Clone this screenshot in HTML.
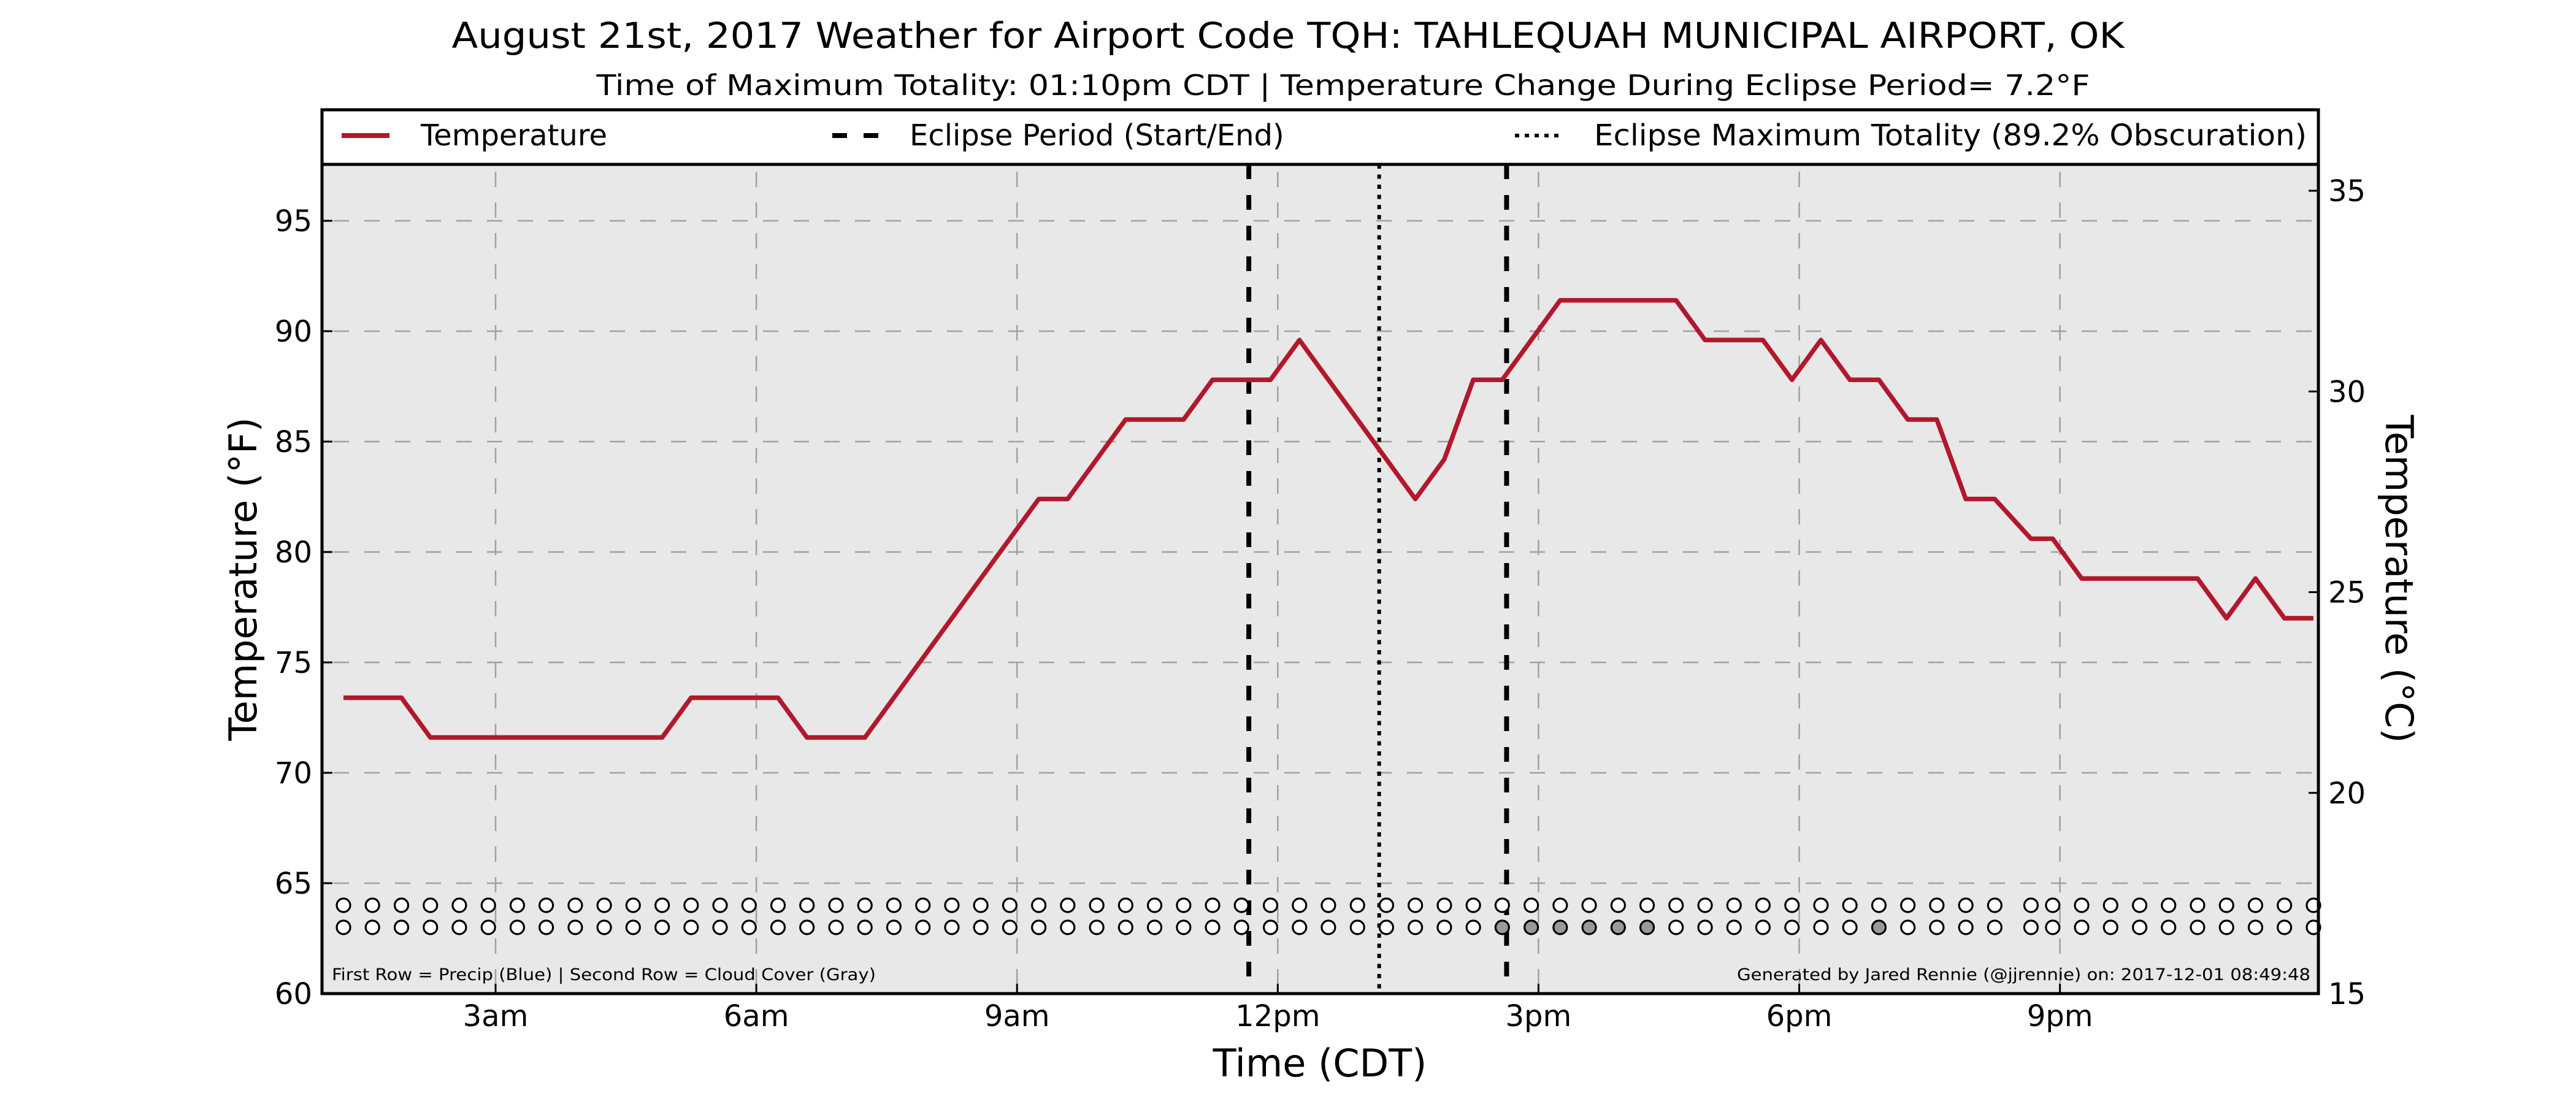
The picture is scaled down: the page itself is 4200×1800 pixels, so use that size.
<!DOCTYPE html>
<html><head><meta charset="utf-8"><style>
html,body{margin:0;padding:0;background:#fff;}
svg{display:block;font-family:"DejaVu Sans","Liberation Sans",sans-serif;}
</style></head><body>
<svg id="chart" width="4200" height="1800" viewBox="0 0 4200 1800" xmlns="http://www.w3.org/2000/svg">
<rect x="0" y="0" width="4200" height="1800" fill="#fff"/>
<text x="2100" y="78" font-size="58" text-anchor="middle" textLength="2727" lengthAdjust="spacingAndGlyphs">August 21st, 2017 Weather for Airport Code TQH: TAHLEQUAH MUNICIPAL AIRPORT, OK</text>
<text x="2190" y="155" font-size="46" text-anchor="middle" textLength="2435" lengthAdjust="spacingAndGlyphs">Time of Maximum Totality: 01:10pm CDT | Temperature Change During Eclipse Period= 7.2°F</text>
<rect x="525" y="268" width="3255" height="1352" fill="#e8e8e8"/>
<g id="grid"></g>
<g id="marks"></g>
<rect x="525" y="268" width="3255" height="1352" fill="none" stroke="#000" stroke-width="5"/>
<g id="axes"></g>
<g>
<rect x="525" y="179" width="3255" height="89" fill="#fff" stroke="#000" stroke-width="5"/>
<line x1="557" y1="221" x2="635" y2="221" stroke="#b2182b" stroke-width="8"/>
<text x="686" y="237" font-size="48">Temperature</text>
<line x1="1357" y1="221" x2="1432" y2="221" stroke="#000" stroke-width="8" stroke-dasharray="24 27"/>
<text x="1483" y="237" font-size="48">Eclipse Period (Start/End)</text>
<line x1="2470" y1="221" x2="2542" y2="221" stroke="#000" stroke-width="6" stroke-dasharray="7 9"/>
<text x="2599" y="237" font-size="48" textLength="1162" lengthAdjust="spacingAndGlyphs">Eclipse Maximum Totality (89.2% Obscuration)</text>
</g>
<text x="541" y="1598" font-size="27" textLength="887" lengthAdjust="spacingAndGlyphs">First Row = Precip (Blue) | Second Row = Cloud Cover (Gray)</text>
<text x="3767" y="1598" font-size="27" text-anchor="end" textLength="935" lengthAdjust="spacingAndGlyphs">Generated by Jared Rennie (@jjrennie) on: 2017-12-01 08:49:48</text>
<text x="2152" y="1755" font-size="62" text-anchor="middle">Time (CDT)</text>
<text transform="translate(418,944) rotate(-90)" font-size="62" text-anchor="middle">Temperature (°F)</text>
<text transform="translate(3890,944) rotate(90)" font-size="62" text-anchor="middle">Temperature (°C)</text>
</svg>
<script>
const times = [1.25,1.583,1.917,2.25,2.583,2.917,3.25,3.583,3.917,4.25,4.583,4.917,5.25,5.583,5.917,6.25,6.583,6.917,7.25,7.583,7.917,8.25,8.583,8.917,9.25,9.583,9.917,10.25,10.583,10.917,11.25,11.583,11.917,12.25,12.583,12.917,13.25,13.583,13.917,14.25,14.583,14.917,15.25,15.583,15.917,16.25,16.583,16.917,17.25,17.583,17.917,18.25,18.583,18.917,19.25,19.583,19.917,20.25,20.667,20.917,21.25,21.583,21.917,22.25,22.583,22.917,23.25,23.583,23.917];
const tempsF = [73.4,73.4,73.4,71.6,71.6,71.6,71.6,71.6,71.6,71.6,71.6,71.6,73.4,73.4,73.4,73.4,71.6,71.6,71.6,73.4,75.2,77,78.8,80.6,82.4,82.4,84.2,86,86,86,87.8,87.8,87.8,89.6,87.8,86,84.2,82.4,84.2,87.8,87.8,89.6,91.4,91.4,91.4,91.4,91.4,89.6,89.6,89.6,87.8,89.6,87.8,87.8,86,86,82.4,82.4,80.6,80.6,78.8,78.8,78.8,78.8,78.8,77,78.8,77,77];
const cloudyTimes = [14.583,14.917,15.25,15.583,15.917,16.25,18.917];
const precipTimes = [];
const eclipseStartEnd = [11.667,14.633];
const eclipseMax = [13.167];
const yTicksF = [60,65,70,75,80,85,90,95];
const yTicksC = [15,20,25,30,35];
const xTickHours = [3,6,9,12,15,18,21];
const xTickLabels = ["3am","6am","9am","12pm","3pm","6pm","9pm"];

const NS = "http://www.w3.org/2000/svg";
const X0 = 525, X1 = 3780, Y0 = 1620, Y1 = 268;
function xScale(h){ return 382.9 + 141.7*h; }
function yScale(f){ return 1620 - (f-60)*36; }
function yScaleC(c){ return 1620 - (c-15)*65.45; }
function mk(tag, attrs, parent){ const e=document.createElementNS(NS,tag); for(const k in attrs) e.setAttribute(k,attrs[k]); parent.appendChild(e); return e; }
const grid=document.getElementById('grid'), marks=document.getElementById('marks'), axes=document.getElementById('axes');

yTicksF.forEach(v=>{
  const y=yScale(v);
  if(v>60){ const g=mk('line',{x1:X0,y1:y,x2:X1,y2:y,stroke:'#a0a0a0','stroke-width':2.5,'stroke-dasharray':'25 25','stroke-dashoffset':'-19'},grid);
    }
  const t=mk('line',{x1:X0,y1:y,x2:X0+17,y2:y,stroke:'#000','stroke-width':3},axes);
   
  const l=mk('text',{x:509,y:y+17,'font-size':48,'text-anchor':'end'},axes); l.textContent=v;
   
});
yTicksC.forEach(v=>{
  const y=yScaleC(v);
  const t=mk('line',{x1:X1-16,y1:y,x2:X1,y2:y,stroke:'#000','stroke-width':3},axes);
   
  const l=mk('text',{x:3796,y:y+17,'font-size':48},axes); l.textContent=v;
   
});
xTickHours.forEach((h,i)=>{
  const x=xScale(h);
  const g=mk('line',{x1:x,y1:Y1,x2:x,y2:Y0,stroke:'#a0a0a0','stroke-width':2.5,'stroke-dasharray':'25 25','stroke-dashoffset':'-12'},grid);
   
  const t=mk('line',{x1:x,y1:Y0,x2:x,y2:Y0-16,stroke:'#000','stroke-width':3},axes);
   
  const l=mk('text',{x:x,y:1673,'font-size':48,'text-anchor':'middle'},axes); l.textContent=xTickLabels[i];
   
});
// eclipse lines
eclipseStartEnd.forEach(h=>{
  const e=mk('line',{x1:xScale(h),y1:Y1,x2:xScale(h),y2:Y0,stroke:'#000','stroke-width':8,'stroke-dasharray':'24 26'},marks);
   
});
eclipseMax.forEach(h=>{
  const e=mk('line',{x1:xScale(h),y1:Y1,x2:xScale(h),y2:Y0,stroke:'#000','stroke-width':6,'stroke-dasharray':'7 9.5'},marks);
   
});
// temperature line
const pts=times.map((h,i)=>xScale(h).toFixed(1)+','+yScale(tempsF[i]).toFixed(1)).join(' ');
const pl=mk('polyline',{points:pts,fill:'none',stroke:'#b2182b','stroke-width':7.5,'stroke-linejoin':'round'},marks);
 
// circles
function near(arr,h){ return arr.some(v=>Math.abs(v-h)<0.05); }
times.forEach(h=>{
  const x=xScale(h);
  const p=mk('circle',{cx:x,cy:1476,r:11,fill:near(precipTimes,h)?'#4a7fd0':'#fff',stroke:'#000','stroke-width':3.2},marks);
   
  const c=mk('circle',{cx:x,cy:1512,r:11,fill:near(cloudyTimes,h)?'#999999':'#fff',stroke:'#000','stroke-width':3.2},marks);
   
});
</script>
</body></html>
